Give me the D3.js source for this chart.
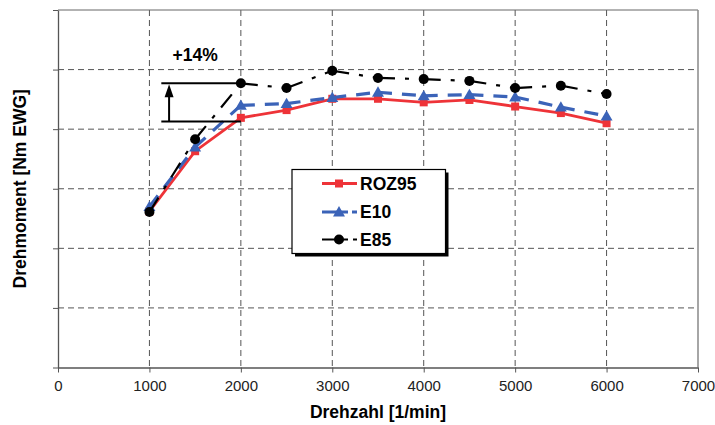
<!DOCTYPE html>
<html><head><meta charset="utf-8">
<script src="https://cdn.jsdelivr.net/npm/d3@7"></script>
<style>
body{margin:0;background:#fff;}
svg{display:block;font-family:"Liberation Sans",Arial,sans-serif;}
</style></head>
<body><svg id="c" width="715" height="425"></svg>
<script>
const rpm = [1000,1500,2000,2500,3000,3500,4000,4500,5000,5500,6000];
const roz95 = [2.62,3.63,4.19,4.32,4.51,4.51,4.45,4.49,4.38,4.27,4.10];
const e10   = [2.70,3.70,4.40,4.43,4.53,4.62,4.56,4.58,4.54,4.37,4.22];
const e85   = [2.61,3.83,4.77,4.69,4.98,4.86,4.84,4.81,4.69,4.73,4.59];
const xTicks = [0,1000,2000,3000,4000,5000,6000,7000];
const seriesNames = ["ROZ95","E10","E85"];

const svg = d3.select("#c");
const m = {l:58, t:10, r:17, b:57.5};
const W = 715 - m.l - m.r, H = 425 - m.t - m.b;
const x = d3.scaleLinear().domain([0,7000]).range([m.l, m.l+W]);
const y = d3.scaleLinear().domain([0,6]).range([m.t+H, m.t]);
const grid = "#555";

// gridlines
svg.append("g").selectAll("line").data([1,2,3,4,5]).join("line")
  .attr("x1", m.l).attr("x2", m.l+W).attr("y1", d=>y(d)).attr("y2", d=>y(d))
  .attr("stroke", grid).attr("stroke-width",1).attr("stroke-dasharray","6,4");
svg.append("g").selectAll("line").data([1000,2000,3000,4000,5000,6000]).join("line")
  .attr("y1", m.t).attr("y2", m.t+H).attr("x1", d=>x(d)).attr("x2", d=>x(d))
  .attr("stroke", grid).attr("stroke-width",1).attr("stroke-dasharray","6,4");

// frame
svg.append("line").attr("x1",m.l).attr("x2",m.l+W).attr("y1",m.t).attr("y2",m.t).attr("stroke","#666");
svg.append("line").attr("x1",m.l+W).attr("x2",m.l+W).attr("y1",m.t).attr("y2",m.t+H).attr("stroke","#888").attr("stroke-width",1.5);

// axes
const xAxis = svg.append("g").attr("transform",`translate(0,${m.t+H})`)
  .call(d3.axisBottom(x).tickValues(xTicks).tickFormat(d3.format("d")).tickSize(5).tickSizeOuter(0));
const yAxis = svg.append("g").attr("transform",`translate(${m.l},0)`)
  .call(d3.axisLeft(y).tickValues([0,1,2,3,4,5,6]).tickFormat("").tickSize(5).tickSizeOuter(0));
[xAxis,yAxis].forEach(a=>{
  a.select(".domain").attr("stroke","#555").attr("stroke-width",1.3);
  a.selectAll(".tick line").attr("stroke","#555");
});
xAxis.selectAll(".tick text").attr("font-size",15).attr("fill","#222")
  .attr("font-family","Liberation Sans, Arial, sans-serif").attr("dy","1.05em");

// titles
svg.append("text").attr("x", x(3500)).attr("y", 418).attr("text-anchor","middle")
  .attr("font-size",17.5).attr("font-weight","bold").text("Drehzahl [1/min]");
svg.append("text").attr("transform",`translate(26,${y(3)}) rotate(-90)`).attr("text-anchor","middle")
  .attr("font-size",17.5).attr("font-weight","bold").text("Drehmoment [Nm EWG]");

// series
const red = "#ee3338", blue = "#3b63b8", black = "#000";
const line = d3.line().x((d,i)=>x(rpm[i])).y(d=>y(d));
const g = svg.append("g");
g.append("path").attr("d", line(roz95)).attr("fill","none").attr("stroke",red).attr("stroke-width",2.8);
g.selectAll("rect.r").data(roz95).join("rect").attr("class","r")
  .attr("x",(d,i)=>x(rpm[i])-4).attr("y",d=>y(d)-4).attr("width",8).attr("height",8).attr("fill",red);

// segmented dashes (pattern restarts per segment)
function segs(vals, color, dash, w){
  for(let i=0;i<vals.length-1;i++){
    g.append("line").attr("x1",x(rpm[i])).attr("y1",y(vals[i])).attr("x2",x(rpm[i+1])).attr("y2",y(vals[i+1]))
      .attr("stroke",color).attr("stroke-width",w).attr("stroke-dasharray",dash);
  }
}
segs(e10, blue, "14,10", 3.2);
const tri = d3.symbol().type(d3.symbolTriangle).size(62);
g.selectAll("path.t").data(e10).join("path").attr("class","t").attr("d",tri)
  .attr("transform",(d,i)=>`translate(${x(rpm[i])},${y(d)+1})`).attr("fill",blue);

segs(e85, black, "17,10,4,10", 2.2);
g.selectAll("circle.c").data(e85).join("circle").attr("class","c")
  .attr("cx",(d,i)=>x(rpm[i])).attr("cy",d=>y(d)).attr("r",5).attr("fill",black);

// +14% annotation
const ax0 = 1130, aArrow = 1215, aLow = 4.13;
const ann = svg.append("g").attr("stroke","#000").attr("stroke-width",2);
ann.append("line").attr("x1",x(ax0)).attr("x2",x(2000)).attr("y1",y(e85[2])).attr("y2",y(e85[2]));
ann.append("line").attr("x1",x(ax0)).attr("x2",x(2000)).attr("y1",y(aLow)).attr("y2",y(aLow));
ann.append("line").attr("x1",x(aArrow)).attr("x2",x(aArrow)).attr("y1",y(aLow)).attr("y2",y(e85[2])+12);
svg.append("path").attr("d",`M${x(aArrow)-4.5},${y(e85[2])+14} L${x(aArrow)},${y(e85[2])+1} L${x(aArrow)+4.5},${y(e85[2])+14} Z`).attr("fill","#000");
svg.append("text").attr("x",x(1500)).attr("y",61).attr("text-anchor","middle")
  .attr("font-size",17.5).attr("font-weight","bold").text("+14%");

// legend
const L = {x:292, y:169.5, w:153.5, h:84};
svg.append("rect").attr("x",L.x+3).attr("y",L.y+3).attr("width",L.w).attr("height",L.h).attr("fill","#000");
svg.append("rect").attr("x",L.x).attr("y",L.y).attr("width",L.w).attr("height",L.h).attr("fill","#fff").attr("stroke","#000").attr("stroke-width",1.2);
const ly = [183.5, 212, 239.5];
const lg = svg.append("g");
lg.append("line").attr("x1",322).attr("x2",357).attr("y1",ly[0]).attr("y2",ly[0]).attr("stroke",red).attr("stroke-width",3);
lg.append("rect").attr("x",339-4).attr("y",ly[0]-4).attr("width",8).attr("height",8).attr("fill",red);
lg.append("line").attr("x1",322).attr("x2",357).attr("y1",ly[1]).attr("y2",ly[1]).attr("stroke",blue).attr("stroke-width",3).attr("stroke-dasharray","26,4,5,10");
lg.append("path").attr("d",tri).attr("transform",`translate(339,${ly[1]+1})`).attr("fill",blue);
lg.append("line").attr("x1",322).attr("x2",357).attr("y1",ly[2]).attr("y2",ly[2]).attr("stroke",black).attr("stroke-width",2.2).attr("stroke-dasharray","26,5,4,10");
lg.append("circle").attr("cx",339).attr("cy",ly[2]).attr("r",5).attr("fill",black);
lg.selectAll("text").data(seriesNames).join("text").attr("x",360).attr("y",(d,i)=>ly[i]+6)
  .attr("font-size",17.5).attr("font-weight","bold").text(d=>d);
</script></body></html>
